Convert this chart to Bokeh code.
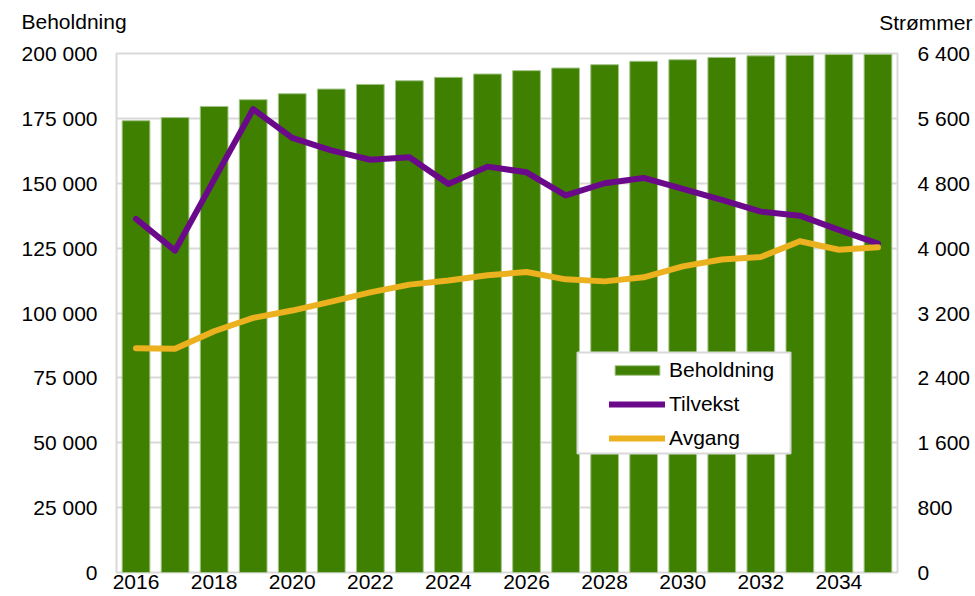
from bokeh.plotting import figure
from bokeh.models import Range1d, LinearAxis, FixedTicker, Legend, LegendItem, Label, BoxAnnotation
from bokeh.embed import file_html
from bokeh.resources import INLINE

years = list(range(2016, 2036))
beholdning = [174100, 175300, 179600, 182200, 184500, 186300, 188100, 189500, 190800, 192100,
              193400, 194400, 195700, 197000, 197600, 198500, 199100, 199300, 199600, 199700]
tilvekst = [4360, 3970, 4845, 5715, 5360, 5205, 5090, 5120, 4790, 5005,
            4935, 4650, 4800, 4865, 4730, 4595, 4450, 4400, 4225, 4055]
avgang = [2765, 2760, 2975, 3140, 3230, 3340, 3455, 3550, 3600, 3665,
          3705, 3615, 3590, 3640, 3775, 3860, 3890, 4085, 3980, 4010]

left_ticks = [0, 25000, 50000, 75000, 100000, 125000, 150000, 175000, 200000]
left_labels = ["0", "25 000", "50 000", "75 000", "100 000", "125 000", "150 000", "175 000", "200 000"]
right_ticks = [0, 800, 1600, 2400, 3200, 4000, 4800, 5600, 6400]
right_labels = ["0", "800", "1 600", "2 400", "3 200", "4 000", "4 800", "5 600", "6 400"]
x_ticks = [2016, 2018, 2020, 2022, 2024, 2026, 2028, 2030, 2032, 2034]

FONT = "Liberation Sans"
FS = "21px"
GREEN = "#408000"
PURPLE = "#6A0A8A"
ORANGE = "#EBB11F"
GRID = "#d9d9d9"

p = figure(width=975, height=596, output_backend="svg", toolbar_location=None,
           x_range=Range1d(2015.5, 2035.5), y_range=Range1d(0, 200000),
           min_border_left=116, min_border_right=78, min_border_top=53, min_border_bottom=24)
p.extra_y_ranges = {"right": Range1d(0, 6400)}

bars = p.vbar(x=years, top=beholdning, width=0.71, fill_color=GREEN,
              line_color="#a3c58a", line_width=1)
l1 = p.line(years, tilvekst, y_range_name="right", line_color=PURPLE, line_width=6,
            line_cap="round", line_join="round")
l2 = p.line(years, avgang, y_range_name="right", line_color=ORANGE, line_width=6,
            line_cap="round", line_join="round")

p.xaxis.ticker = FixedTicker(ticks=x_ticks)
p.yaxis.ticker = FixedTicker(ticks=left_ticks)
p.yaxis.major_label_overrides = {t: s for t, s in zip(left_ticks, left_labels)}

ra = LinearAxis(y_range_name="right", ticker=FixedTicker(ticks=right_ticks),
                major_label_overrides={t: s for t, s in zip(right_ticks, right_labels)})
p.add_layout(ra, "right")

for ax in [p.xaxis[0], p.yaxis[0], ra]:
    ax.axis_line_color = None
    ax.major_tick_line_color = None
    ax.minor_tick_line_color = None
    ax.major_tick_out = 0
    ax.major_tick_in = 0
    ax.major_label_text_font = FONT
    ax.major_label_text_font_size = FS
    ax.major_label_text_color = "black"
p.yaxis[0].major_label_standoff = 19
ra.major_label_standoff = 20
p.xaxis[0].major_label_standoff = 2

p.xgrid.grid_line_color = None
p.ygrid.grid_line_color = GRID
p.ygrid.grid_line_width = 2
p.outline_line_color = GRID
p.outline_line_width = 2

# legend frame
p.add_layout(BoxAnnotation(left=461, right=674, bottom=119, top=220,
                           left_units="screen", right_units="screen",
                           bottom_units="screen", top_units="screen",
                           fill_color="white", fill_alpha=1,
                           line_color=GRID, line_width=2, line_alpha=1))

legend = Legend(items=[LegendItem(label="Beholdning", renderers=[bars]),
                       LegendItem(label="Tilvekst", renderers=[l1]),
                       LegendItem(label="Avgang", renderers=[l2])],
                location=(493, 122), orientation="vertical",
                label_text_font=FONT, label_text_font_size=FS, label_text_color="black",
                glyph_width=56, glyph_height=12, label_height=24, label_width=100,
                label_standoff=4, spacing=10, padding=0, margin=0,
                border_line_color=None, background_fill_alpha=0)
p.add_layout(legend, "center")

# axis titles
p.add_layout(Label(x=856, y=31, x_units="screen", y_units="screen", text="Strømmer",
                   text_font=FONT, text_font_size=FS, text_baseline="alphabetic",
                   text_align="right", text_color="black"), "above")
p.add_layout(Label(x=-95, y=9, x_units="screen", y_units="screen", text="Beholdning",
                   text_font=FONT, text_font_size=FS, text_baseline="alphabetic",
                   text_align="left", text_color="black"), "above")

open("out.html", "w").write(file_html(p, INLINE))
